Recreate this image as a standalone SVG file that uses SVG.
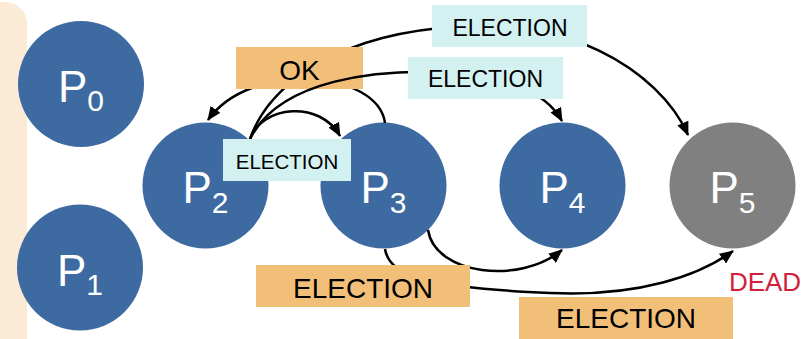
<svg xmlns="http://www.w3.org/2000/svg" width="803" height="339" viewBox="0 0 803 339">
<defs>
<style>
.node{fill:#3D6AA1}
.dead{fill:#808080}
.plabel{font-family:"Liberation Sans",Arial,sans-serif;font-size:44px;fill:#fff;text-anchor:middle}
.sub{font-size:30px}
.edge{fill:none;stroke:#000;stroke-width:2.5;marker-end:url(#ah)}
.line{fill:none;stroke:#000;stroke-width:2.5}
.cyan{fill:#D3F1F1}
.orange{fill:#F2BF79}
.lbl{font-family:"Liberation Sans",Arial,sans-serif;fill:#000;text-anchor:middle}
</style>
<marker id="ah" viewBox="0 0 14 12" refX="13" refY="6" markerWidth="14" markerHeight="12" markerUnits="userSpaceOnUse" orient="auto">
<path d="M0,0 L14,6 L0,12 z" fill="#000"/>
</marker>
</defs>
<rect id="panel" x="-40" y="2" width="67" height="400" rx="22" fill="#FBEAD5"/>
<g id="P0"><circle class="node" cx="81" cy="84" r="63"/><text class="plabel" x="81" y="102">P<tspan class="sub" dy="9">0</tspan></text></g>
<g id="P1"><circle class="node" cx="80" cy="267.5" r="63"/><text class="plabel" x="80" y="285.5">P<tspan class="sub" dy="9">1</tspan></text></g>
<g id="P2"><circle class="node" cx="205.5" cy="185.5" r="63"/><text class="plabel" x="205.5" y="203">P<tspan class="sub" dy="10">2</tspan></text></g>
<g id="P3"><circle class="node" cx="383.5" cy="185.5" r="63"/><text class="plabel" x="383.5" y="203">P<tspan class="sub" dy="10">3</tspan></text></g>
<g id="P4"><circle class="node" cx="562.5" cy="185.5" r="63"/><text class="plabel" x="562.5" y="203">P<tspan class="sub" dy="10">4</tspan></text></g>
<g id="P5"><circle class="dead" cx="732.5" cy="185.5" r="63"/><text class="plabel" x="732.5" y="203">P<tspan class="sub" dy="10">5</tspan></text>
<text x="765" y="291" font-family="Liberation Sans, Arial, sans-serif" font-size="26" fill="#D21F3C" text-anchor="middle">DEAD</text></g>
<g id="connectors">
<g id="e-p2-p5">
<path class="edge" d="M250,139 C265,95 320,40 440,28 C560,10 660,70 688,135"/>
<rect class="cyan" x="432" y="5" width="155" height="42"/>
<text class="lbl" x="510" y="36" font-size="23">ELECTION</text>
</g>
<g id="e-p3-p2">
<path class="edge" d="M385,123 C378,70 250,60 208,120"/>
<rect class="orange" x="236" y="47" width="127" height="42"/>
<text class="lbl" x="299.5" y="80" font-size="28">OK</text>
</g>
<g id="e-p2-p4">
<path class="edge" d="M250,139 C280,78 380,70 440,72 S545,90 562,121"/>
<rect class="cyan" x="408" y="57" width="155" height="42"/>
<text class="lbl" x="485.5" y="87" font-size="23">ELECTION</text>
</g>
<g id="e-p2-p3">
<path class="edge" d="M250,139 C262,105 320,100 340,136"/>
<rect class="cyan" x="223" y="139" width="128" height="42"/>
<text class="lbl" x="287" y="168.5" font-size="20.5">ELECTION</text>
</g>
<g id="e-p3-p4">
<path class="edge" d="M428,230 C435,275 520,285 562,250"/>
</g>
<g id="e-p3-p5">
<path class="edge" d="M385,249 C390,280 440,288 550,293 C640,297 700,275 733,251"/>
<rect class="orange" x="256" y="265" width="214" height="42"/>
<text class="lbl" x="363" y="298" font-size="28">ELECTION</text>
<rect class="orange" x="519" y="297" width="214" height="42"/>
<text class="lbl" x="626" y="328" font-size="28">ELECTION</text>
</g>
</g>
</svg>
